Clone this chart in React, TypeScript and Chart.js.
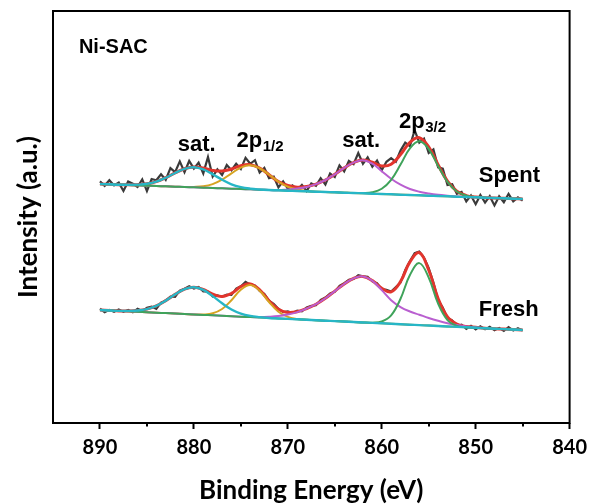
import React, { useEffect, useRef } from "react";
import { Chart, registerables } from "chart.js";
Chart.register(...registerables);

// ---------- data ----------
const GRID_E = [890, 889, 888, 887, 886, 885, 884, 883, 882, 881, 880, 879, 878, 877, 876, 875, 874, 873, 872, 871, 870, 869, 868, 867, 866, 865, 864, 863, 862, 861, 860, 859, 858, 857, 856, 855, 854, 853, 852, 851, 850, 849, 848, 847, 846, 845];
const RAW_E = [890, 889.5, 889, 888.5, 888, 887.5, 887, 886.5, 886, 885.5, 885, 884.5, 884, 883.5, 883, 882.5, 882, 881.5, 881, 880.5, 880, 879.5, 879, 878.5, 878, 877.5, 877, 876.5, 876, 875.5, 875, 874.5, 874, 873.5, 873, 872.5, 872, 871.5, 871, 870.5, 870, 869.5, 869, 868.5, 868, 867.5, 867, 866.5, 866, 865.5, 865, 864.5, 864, 863.5, 863, 862.5, 862, 861.5, 861, 860.5, 860, 859.5, 859, 858.5, 858, 857.5, 857, 856.5, 856, 855.5, 855, 854.5, 854, 853.5, 853, 852.5, 852, 851.5, 851, 850.5, 850, 849.5, 849, 848.5, 848, 847.5, 847, 846.5, 846, 845.5, 845];

const SPENT_RAW = [
  60.4, 59.3, 60.7, 59.4, 60.1, 58.0, 60.4, 59.8, 59.0, 60.9,
  58.0, 61.0, 60.7, 62.2, 60.8, 63.7, 62.7, 65.4, 62.7, 65.5,
  63.6, 65.1, 62.4, 66.5, 61.6, 63.4, 62.0, 64.5, 63.2, 64.8,
  63.5, 66.3, 64.8, 65.7, 62.6, 63.8, 61.2, 61.6, 58.9, 60.4,
  58.6, 59.4, 58.3, 59.5, 58.0, 59.9, 59.3, 61.2, 59.6, 62.4,
  61.5, 64.4, 62.9, 65.5, 64.7, 67.5, 64.8, 66.4, 64.1, 65.6,
  63.2, 65.3, 66.2, 65.3, 68.1, 70.1, 69.2, 73.2, 70.1, 71.1,
  67.5, 68.4, 63.9, 63.6, 59.5, 59.7, 57.3, 57.8, 55.4, 56.9,
  54.7, 57.0, 55.1, 56.7, 54.4, 56.7, 55.2, 57.3, 55.4, 56.4,
  55.6];
const FRESH_RAW = [
  28.6, 27.7, 28.3, 27.8, 28.4, 27.8, 28.3, 27.7, 28.6, 28.0,
  28.8, 29.1, 28.5, 30.1, 30.6, 31.6, 31.5, 33.1, 33.6, 34.2,
  33.6, 34.0, 32.9, 32.9, 31.6, 31.9, 31.6, 32.1, 32.0, 33.6,
  34.2, 35.3, 34.6, 34.4, 33.0, 32.3, 30.6, 29.8, 28.6, 27.7,
  27.9, 27.5, 28.1, 27.9, 28.9, 29.3, 29.4, 30.8, 31.4, 32.4,
  32.8, 34.3, 35.0, 35.8, 36.0, 37.0, 36.7, 36.6, 35.4, 35.0,
  33.5, 33.3, 32.9, 34.0, 35.1, 38.3, 40.5, 42.5, 42.9, 41.4,
  38.8, 35.2, 30.8, 28.9, 26.3, 25.7, 24.3, 24.6, 23.5, 24.3,
  23.4, 24.2, 23.4, 24.1, 23.2, 23.8, 23.0, 24.0, 23.1, 23.7,
  23.1];

const SPENT_BASE = [59.75, 59.67, 59.58, 59.50, 59.42, 59.33, 59.25, 59.17, 59.08, 59.00, 58.92, 58.83, 58.75, 58.67, 58.58, 58.50, 58.42, 58.33, 58.25, 58.17, 58.08, 58.00, 57.92, 57.83, 57.75, 57.67, 57.58, 57.50, 57.42, 57.33, 57.25, 57.17, 57.08, 57.00, 56.92, 56.83, 56.75, 56.67, 56.58, 56.50, 56.42, 56.33, 56.25, 56.17, 56.08, 56.00];
const FRESH_BASE = [28.25, 28.14, 28.03, 27.92, 27.81, 27.69, 27.58, 27.47, 27.36, 27.25, 27.14, 27.03, 26.92, 26.81, 26.69, 26.58, 26.47, 26.36, 26.25, 26.14, 26.03, 25.92, 25.81, 25.69, 25.58, 25.47, 25.36, 25.25, 25.14, 25.03, 24.92, 24.81, 24.69, 24.58, 24.47, 24.36, 24.25, 24.14, 24.03, 23.92, 23.81, 23.69, 23.58, 23.47, 23.36, 23.25];

// fitted components (height above background), on GRID_E
const SPENT_SAT1 = [0, 0, 0, 0.05, 0.17, 0.48, 1.10, 2.15, 3.43, 4.55, 5.00, 4.55, 3.43, 2.15, 1.10, 0.48, 0.17, 0.05, 0, 0, 0, 0, 0, 0, 0, 0, 0, 0, 0, 0, 0, 0, 0, 0, 0, 0, 0, 0, 0, 0, 0, 0, 0, 0, 0, 0];
const SPENT_P12 = [0, 0, 0, 0, 0, 0, 0, 0, 0, 0, 0.10, 0.35, 0.98, 2.17, 3.82, 5.36, 6.00, 5.36, 3.82, 2.17, 0.98, 0.35, 0.10, 0, 0, 0, 0, 0, 0, 0, 0, 0, 0, 0, 0, 0, 0, 0, 0, 0, 0, 0, 0, 0, 0, 0];
const SPENT_SAT2 = [0, 0, 0, 0, 0, 0, 0, 0, 0, 0, 0, 0, 0, 0, 0, 0, 0, 0, 0, 0, 0.3, 0.6, 1.1, 1.9, 3.0, 4.5, 6.2, 7.6, 8.25, 7.5, 5.7, 3.9, 2.5, 1.5, 0.9, 0.55, 0.3, 0.15, 0.05, 0, 0, 0, 0, 0, 0, 0];
const SPENT_P32 = [0, 0, 0, 0, 0, 0, 0, 0, 0, 0, 0, 0, 0, 0, 0, 0, 0, 0, 0, 0, 0, 0, 0, 0, 0, 0, 0, 0, 0.07, 0.35, 1.31, 3.63, 7.52, 11.66, 13.5, 11.66, 7.52, 3.63, 1.31, 0.35, 0.07, 0, 0, 0, 0, 0];

const FRESH_SAT1 = [0, 0, 0, 0.1, 0.3, 0.78, 1.7, 3.12, 4.8, 6.24, 6.8, 6.24, 4.8, 3.12, 1.7, 0.78, 0.3, 0.1, 0, 0, 0, 0, 0, 0, 0, 0, 0, 0, 0, 0, 0, 0, 0, 0, 0, 0, 0, 0, 0, 0, 0, 0, 0, 0, 0, 0];
const FRESH_P12 = [0, 0, 0, 0, 0, 0, 0, 0, 0, 0, 0, 0.10, 0.50, 1.69, 4.01, 6.73, 8.00, 6.73, 4.01, 1.69, 0.50, 0.10, 0, 0, 0, 0, 0, 0, 0, 0, 0, 0, 0, 0, 0, 0, 0, 0, 0, 0, 0, 0, 0, 0, 0, 0];
const FRESH_SAT2 = [0, 0, 0, 0, 0, 0, 0, 0, 0, 0, 0, 0, 0, 0, 0, 0, 0, 0.1, 0.3, 0.6, 1.1, 1.8, 2.8, 4.0, 5.6, 7.5, 9.4, 10.9, 11.5, 10.5, 8.3, 5.9, 4.3, 3.3, 2.6, 1.9, 1.3, 0.8, 0.45, 0.2, 0.1, 0, 0, 0, 0, 0];
const FRESH_P32 = [0, 0, 0, 0, 0, 0, 0, 0, 0, 0, 0, 0, 0, 0, 0, 0, 0, 0, 0, 0, 0, 0, 0, 0, 0, 0, 0, 0, 0, 0.06, 0.45, 2.09, 6.37, 12.4, 15.5, 12.0, 5.58, 1.57, 0.26, 0, 0, 0, 0, 0, 0, 0];

const MAJOR_TICKS = [890, 880, 870, 860, 850, 840];
const MINOR_TICKS = [885, 875, 865, 855, 845];

const LABELS = [
  { text: "Ni-SAC", sub: "", e: 892.24, v: 92.5, align: "left", size: 20 },
  { text: "sat.", sub: "", e: 879.7, v: 68.0, align: "center", size: 22 },
  { text: "2p", sub: "1/2", e: 875.46, v: 69.0, align: "left", size: 22 },
  { text: "sat.", sub: "", e: 862.19, v: 69.0, align: "center", size: 22 },
  { text: "2p", sub: "3/2", e: 858.16, v: 73.75, align: "left", size: 22 },
  { text: "Spent", sub: "", e: 849.66, v: 60.25, align: "left", size: 22 },
  { text: "Fresh", sub: "", e: 849.66, v: 26.75, align: "left", size: 22 },
];

// ---------- helpers ----------
const pts = (xs: number[], ys: number[]) => xs.map((x, i) => ({ x, y: ys[i] }));
const withBase = (base: number[], comp: number[]) => base.map((b, i) => b + comp[i]);
const envelope = (base: number[], comps: number[][]) =>
  base.map((b, i) => b + comps.reduce((s, c) => s + c[i], 0));

const C_RAW = "#3a3a3a";
const C_RED = "#e2352d";
const C_GREEN = "#3fa35a";
const C_PURPLE = "#b95fd0";
const C_CYAN = "#27b6c6";
const C_ORANGE = "#d6a422";

const FAMILY = '"Liberation Sans", Arial, sans-serif';
const AXIS_FAMILY = "Lato, 'Open Sans', sans-serif";

const decorPlugin = {
  id: "decor",
  afterDraw(chart: any) {
    const { ctx, chartArea: ca, scales } = chart;
    const x = scales.x;
    const y = scales.y;
    ctx.save();
    ctx.strokeStyle = "#000";
    ctx.lineWidth = 2;
    ctx.strokeRect(ca.left, ca.top, ca.right - ca.left, ca.bottom - ca.top);
    for (const v of MINOR_TICKS) {
      const px = Math.round(x.getPixelForValue(v));
      ctx.beginPath();
      ctx.moveTo(px, ca.bottom);
      ctx.lineTo(px, ca.bottom + 3.5);
      ctx.stroke();
    }
    ctx.fillStyle = "#000";
    ctx.textBaseline = "alphabetic";
    for (const l of LABELS) {
      const px = x.getPixelForValue(l.e);
      const py = y.getPixelForValue(l.v);
      const mainFont = `bold ${l.size}px ${FAMILY}`;
      const subFont = `bold ${Math.round(l.size * 0.68)}px ${FAMILY}`;
      ctx.font = mainFont;
      const w = ctx.measureText(l.text).width;
      ctx.font = subFont;
      const ws = l.sub ? ctx.measureText(l.sub).width : 0;
      const total = w + ws;
      const left = l.align === "center" ? px - total / 2 : px;
      ctx.font = mainFont;
      ctx.textAlign = "left";
      ctx.fillText(l.text, left, py);
      if (l.sub) {
        ctx.font = subFont;
        ctx.fillText(l.sub, left + w + 0.5, py + 4);
      }
    }
    ctx.restore();
  },
};

function line(data: any[], color: string, width: number, order: number, tension: number) {
  return {
    data,
    borderColor: color,
    backgroundColor: color,
    borderWidth: width,
    pointRadius: 0,
    tension,
    fill: false,
    order,
  };
}

export default function App() {
  const ref = useRef<HTMLCanvasElement>(null);
  useEffect(() => {
    const sComps = [SPENT_SAT1, SPENT_P12, SPENT_SAT2, SPENT_P32];
    const fComps = [FRESH_SAT1, FRESH_P12, FRESH_SAT2, FRESH_P32];
    const datasets: any[] = [
      line(pts(RAW_E, SPENT_RAW), C_RAW, 2.2, 9, 0),
      line(pts(RAW_E, FRESH_RAW), C_RAW, 2.0, 9, 0),
      line(pts(GRID_E, envelope(SPENT_BASE, sComps)), C_RED, 3, 8, 0.4),
      line(pts(GRID_E, envelope(FRESH_BASE, fComps)), C_RED, 3, 8, 0.4),
      line(pts(GRID_E, withBase(SPENT_BASE, SPENT_P12)), C_ORANGE, 2, 5, 0.4),
      line(pts(GRID_E, withBase(FRESH_BASE, FRESH_P12)), C_ORANGE, 2, 5, 0.4),
      line(pts(GRID_E, withBase(SPENT_BASE, SPENT_SAT2)), C_PURPLE, 2, 4, 0.4),
      line(pts(GRID_E, withBase(FRESH_BASE, FRESH_SAT2)), C_PURPLE, 2, 4, 0.4),
      line(pts(GRID_E, withBase(SPENT_BASE, SPENT_P32)), C_GREEN, 2, 3, 0.4),
      line(pts(GRID_E, withBase(FRESH_BASE, FRESH_P32)), C_GREEN, 2, 3, 0.4),
      line(pts(GRID_E, withBase(SPENT_BASE, SPENT_SAT1)), C_CYAN, 2.4, 1, 0.4),
      line(pts(GRID_E, withBase(FRESH_BASE, FRESH_SAT1)), C_CYAN, 2.4, 1, 0.4),
    ];
    const chart = new Chart(ref.current as HTMLCanvasElement, {
      type: "line",
      data: { datasets },
      options: {
        animation: false,
        responsive: false,
        devicePixelRatio: 1,
        layout: { padding: { top: 11, right: 23, left: 0, bottom: 0 } },
        plugins: { legend: { display: false }, tooltip: { enabled: false } },
        scales: {
          x: {
            type: "linear",
            reverse: true,
            min: 840,
            max: 895,
            afterBuildTicks: (scale: any) => {
              scale.ticks = MAJOR_TICKS.map((v) => ({ value: v }));
            },
            afterFit: (scale: any) => {
              scale.height = 81;
            },
            border: { display: false },
            grid: {
              drawOnChartArea: false,
              drawTicks: true,
              tickLength: 6,
              tickWidth: 2,
              tickColor: "#000",
            },
            ticks: {
              color: "#000",
              padding: 7,
              maxRotation: 0,
              autoSkip: false,
              font: { family: AXIS_FAMILY, size: 20, weight: "bold" },
            },
            title: {
              display: true,
              text: "Binding Energy (eV)",
              color: "#000",
              font: { family: AXIS_FAMILY, size: 26, weight: "bold", lineHeight: 1 },
              padding: { top: 0, bottom: 0 },
            },
          },
          y: {
            type: "linear",
            min: 0,
            max: 103,
            afterFit: (scale: any) => {
              scale.width = 53;
            },
            border: { display: false },
            grid: { display: false },
            ticks: { display: false },
            title: {
              display: true,
              text: "Intensity (a.u.)",
              color: "#000",
              font: { family: AXIS_FAMILY, size: 26, weight: "bold", lineHeight: 1 },
              padding: { top: 16, bottom: 0 },
            },
          },
        },
      },
      plugins: [decorPlugin],
    } as any);
    return () => chart.destroy();
  }, []);
  return (
    <div style={{ position: "fixed", left: 0, top: 0, width: 594, height: 504, background: "#fff" }}>
      <canvas ref={ref} width={594} height={504} style={{ display: "block" }} />
    </div>
  );
}
